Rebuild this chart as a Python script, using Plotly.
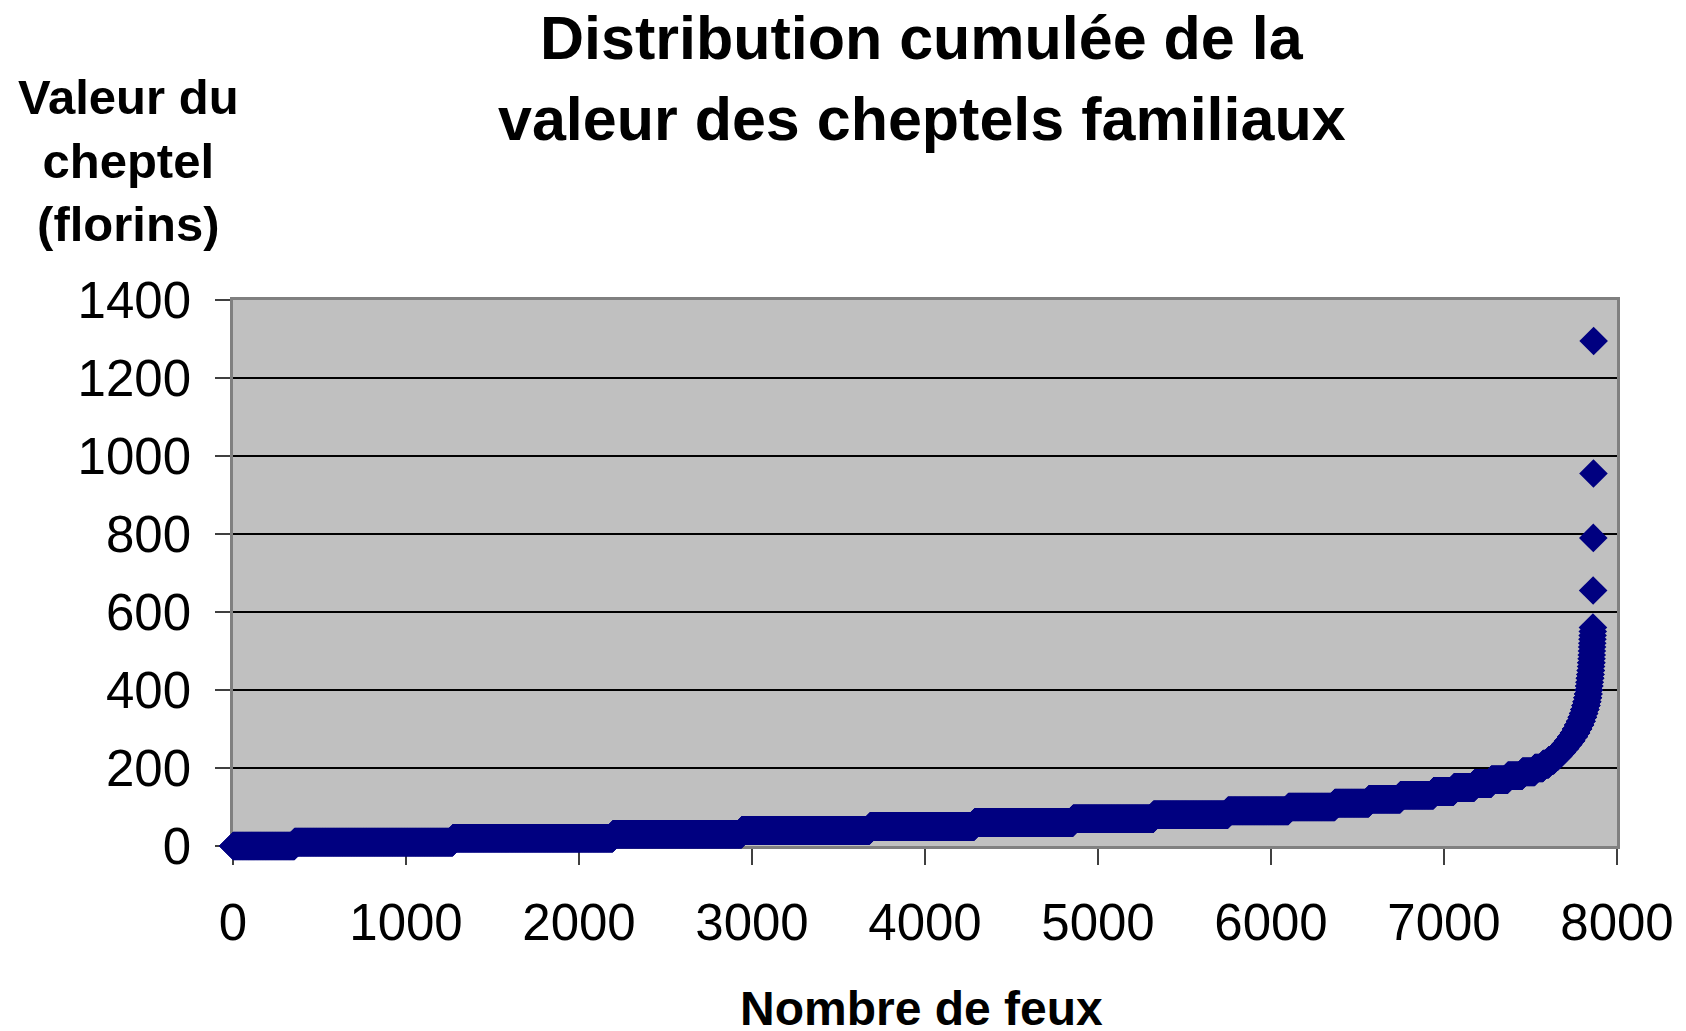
import numpy as np
import plotly.graph_objects as go

# valeurs du cheptel (florins), triées, et nombre de feux pour chaque valeur
valeurs = [0, 10, 20, 30, 40, 50, 60, 70, 80, 90,
           100, 110, 120, 130, 140, 150, 160, 170, 180, 190,
           200, 210, 220, 230, 240, 250, 260, 270, 280, 290,
           300, 310, 320, 330, 340, 350, 360, 370, 380, 390,
           400, 410, 420, 430, 440, 450, 460, 470, 480, 490,
           500, 510, 520, 530, 540, 550, 560, 655, 790, 955, 1295]
effectifs = [355, 915, 925, 745, 740, 605, 570, 465, 430, 350,
             268, 197, 182, 192, 117, 119, 97, 96, 84, 72,
             48, 33, 30, 25, 20, 20, 18, 17, 15, 13,
             12, 11, 9, 8, 7, 7, 6, 5, 4, 3,
             3, 2, 2, 3, 2, 2, 1, 2, 1, 1,
             1, 1, 1, 1, 1, 1, 1, 1, 1, 1, 1]

x_ticks = [0, 1000, 2000, 3000, 4000, 5000, 6000, 7000, 8000]
y_ticks = [0, 200, 400, 600, 800, 1000, 1200, 1400]

titre = ["Distribution cumulée de la", "valeur des cheptels familiaux"]

y = np.repeat(valeurs, effectifs)
x = np.arange(1, len(y) + 1)

FONT = "Liberation Sans, Arial, sans-serif"

fig = go.Figure()
fig.add_trace(go.Scatter(
    x=x, y=y,
    mode="markers",
    marker=dict(symbol="diamond", size=22, color="#000080", line=dict(width=0)),
    cliponaxis=False,
    showlegend=False,
    hoverinfo="x+y"
))

# ===== Textes =====
for ligne, ypos in zip(titre, [1.480, 1.332]):
    fig.add_annotation(
        text=f"<b>{ligne}</b>",
        xref="paper", yref="paper", x=0.4975, y=ypos,
        xanchor="center", yanchor="middle", showarrow=False,
        font=dict(family=FONT, size=61, color="black")
    )
fig.add_annotation(
    text="<b>Valeur du<br>cheptel<br>(florins)</b>",
    xref="paper", yref="paper", x=-0.0757, y=1.255,
    xanchor="center", yanchor="middle", showarrow=False,
    font=dict(family=FONT, size=49, color="black")
)
fig.add_annotation(
    text="<b>Nombre de feux</b>",
    xref="paper", yref="paper", x=0.4975, y=-0.297,
    xanchor="center", yanchor="middle", showarrow=False,
    font=dict(family=FONT, size=48, color="black")
)

# la page ajoute une marge autour de la figure : figure réduite d'autant
fig.update_layout(
    width=1678, height=1023,
    margin=dict(l=225, r=59, t=292, b=185),
    paper_bgcolor="white",
    plot_bgcolor="#C0C0C0",
    font=dict(family=FONT, color="black"),
    xaxis=dict(
        range=[0, 8000], tickvals=x_ticks,
        showgrid=False, zeroline=False,
        showline=True, mirror=True, linecolor="#808080", linewidth=2.5,
        ticks="outside", ticklen=16, tickwidth=1.5, tickcolor="#404040",
        tickfont=dict(family=FONT, size=51, color="black"),
        ticklabelstandoff=14,
        layer="below traces",
    ),
    yaxis=dict(
        range=[0, 1400], tickvals=y_ticks,
        showgrid=True, gridcolor="#000000", gridwidth=1.6,
        zeroline=False,
        showline=True, mirror=True, linecolor="#808080", linewidth=2.5,
        ticks="outside", ticklen=15, tickwidth=1.5, tickcolor="#404040",
        tickfont=dict(family=FONT, size=51, color="black"),
        ticklabelstandoff=14,
        layer="below traces",
    ),
)

fig.write_html("out.html")
